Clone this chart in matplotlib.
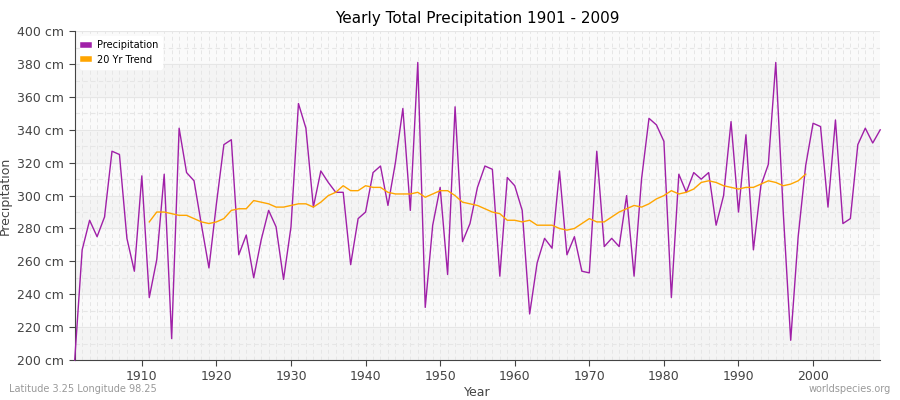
import numpy as np
import matplotlib.pyplot as plt

years = list(range(1901, 2010))
precip = [200, 267, 285, 275, 287, 327, 325, 274, 254, 312,
          238, 261, 313, 213, 341, 314, 309, 282, 256, 295,
          331, 334, 264, 276, 250, 273, 291, 281, 249, 281,
          356, 341, 293, 315, 308, 302, 302, 258, 286, 290,
          314, 318, 294, 320, 353, 291, 381, 232, 282, 305,
          252, 354, 272, 283, 305, 318, 316, 251, 311, 306,
          291, 228, 259, 274, 268, 315, 264, 275, 254, 253,
          327, 269, 274, 269, 300, 251, 310, 347, 343, 333,
          238, 313, 302, 314, 310, 314, 282, 300, 345, 290,
          337, 267, 306, 319, 381, 290, 212, 275, 318, 344,
          342, 293, 346, 283, 286, 331, 341, 332, 340]
trend_years = list(range(1911, 2000))
trend = [284, 290, 290, 289, 288, 288, 286, 284, 283, 284,
         286, 291, 292, 292, 297, 296, 295, 293, 293, 294,
         295, 295, 293, 296, 300, 302, 306, 303, 303, 306,
         305, 305, 302, 301, 301, 301, 302, 299, 301, 303,
         303, 300, 296, 295, 294, 292, 290, 289, 285, 285,
         284, 285, 282, 282, 282, 280, 279, 280, 283, 286,
         284, 284, 287, 290, 292, 294, 293, 295, 298, 300,
         303, 301, 302, 304, 308, 309, 308, 306, 305, 304,
         305, 305, 307, 309, 308, 306, 307, 309, 313]

fig, ax = plt.subplots(figsize=(9, 4), dpi=100)
fig.subplots_adjust(left=0.083, right=0.978, top=0.922, bottom=0.1)

ax.set_xlim(1901, 2009)
ax.set_ylim(200, 400)
for lo in range(200, 400, 40):
    ax.axhspan(lo, lo + 20, color='#f4f4f4', zorder=0)
    ax.axhspan(lo + 20, lo + 40, color='#fafafa', zorder=0)
for y in range(200, 401, 10):
    ax.axhline(y, color='#e6e6e6', lw=0.8, ls=(0, (4, 3)) if y % 20 else '-', zorder=1)
for x in years:
    ax.axvline(x, color='#e6e6e6', lw=0.7, ls=(0, (4, 3)), zorder=1)

ax.plot(years, precip, color='#a020a8', lw=1, label='Precipitation', zorder=3, clip_on=False)
ax.plot(trend_years, trend, color='#ffa500', lw=1, label='20 Yr Trend', zorder=3)

ax.set_xticks(range(1910, 2001, 10))
ax.set_yticks(range(200, 401, 20))
ax.set_yticklabels([f'{v} cm' for v in range(200, 401, 20)])
ax.tick_params(colors='#444444', labelsize=9, length=4)
for s in ['top', 'right']:
    ax.spines[s].set_visible(False)
ax.spines['left'].set_color('#444444')
ax.spines['bottom'].set_color('#444444')

ax.set_title('Yearly Total Precipitation 1901 - 2009', fontsize=11)
ax.set_xlabel('Year', fontsize=9, color='#444444', labelpad=2)
ax.set_ylabel('Precipitation', fontsize=9, color='#444444')
leg = ax.legend(loc='upper left', fontsize=7, markerscale=0.5, handlelength=0.6,
                framealpha=1, edgecolor='white')
for h in leg.legend_handles:
    h.set_linewidth(4)

fig.text(0.01, 0.02, 'Latitude 3.25 Longitude 98.25', fontsize=7, color='#999999')
fig.text(0.99, 0.02, 'worldspecies.org', fontsize=7, color='#999999', ha='right')

fig.savefig('out.png')
